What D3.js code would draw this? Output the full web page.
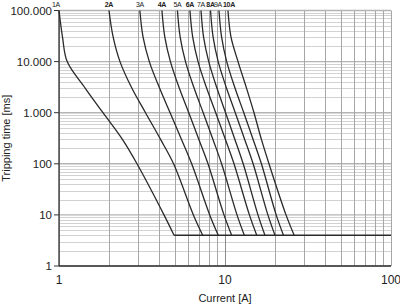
<!DOCTYPE html>
<html lang="en">
<head>
	<title>Tripping curves</title>
	<script src="https://d3js.org/d3.v7.min.js" charset="utf-8"></script>
	<style>
		body { margin: 0; background: #fff; }
		text { font-family: Arial, "Liberation Sans", sans-serif; fill: #222; }
	</style>
</head>
<body>
	<div id="chart"></div>
<script>
	// fuse ratings shown at the top
	var ratings = ["1A", "2A", "3A", "4A", "5A", "6A", "7A", "8A", "9A", "10A"];
	var boldLabels = ["2A", "4A", "6A", "8A", "10A"];

	// tripping time levels [ms] at which the currents below were read
	var timeLevels = [100000, 30000, 10000, 3000, 1000, 300, 100, 10, 4];

	// current [A] for each rating at every time level
	var current1A  = [1.00, 1.05, 1.12, 1.44, 1.84, 2.41, 2.95, 4.29, 4.93];
	var current2A  = [2.00, 2.12, 2.33, 2.75, 3.32, 4.09, 4.90, 6.45, 7.34];
	var current3A  = [3.07, 3.21, 3.50, 4.04, 4.67, 5.47, 6.30, 8.09, 9.11];
	var current4A  = [4.17, 4.34, 4.69, 5.31, 6.05, 6.96, 7.90, 9.86, 10.97];
	var current5A  = [5.17, 5.37, 5.78, 6.52, 7.39, 8.46, 9.54, 11.81, 13.07];
	var current6A  = [6.15, 6.39, 6.88, 7.76, 8.79, 10.06, 11.33, 14.03, 15.53];
	var current7A  = [7.17, 7.43, 7.98, 8.95, 10.08, 11.47, 12.87, 15.80, 17.4];
	var current8A  = [8.18, 8.48, 9.10, 10.22, 11.53, 13.14, 14.77, 18.13, 20.0];
	var current9A  = [9.20, 9.54, 10.24, 11.50, 12.98, 14.77, 16.57, 20.34, 22.5];
	var current10A = [10.42, 10.87, 11.98, 13.49, 14.95, 16.57, 18.41, 23.31, 26.1];
	var currents = [current1A, current2A, current3A, current4A, current5A,
		current6A, current7A, current8A, current9A, current10A];

	// minimum tripping time (flat part of all curves)
	var minTime = 4;
	var floorStart = 4.93;

	// axis ticks
	var xTickValues = [1, 10, 100];
	var xTickLabels = ["1", "10", "100"];
	var yTickValues = [1, 10, 100, 1000, 10000, 100000];
	var yTickLabels = ["1", "10", "100", "1.000", "10.000", "100.000"];

	var w = 400;
	var h = 305;
	var margin = { top: 10.5, right: 9, bottom: 39, left: 59 };

	var svg = d3.select("#chart")
		.append("svg")
		.attr("width", w)
		.attr("height", h);

	var x = d3.scaleLog()
		.domain([1, 100])
		.range([margin.left, w - margin.right]);

	var y = d3.scaleLog()
		.domain([1, 100000])
		.range([h - margin.bottom, margin.top]);

	// grid values: 1..9 of every decade
	var xGrid = [];
	for (var d = 1; d < 100; d *= 10) {
		for (var k = 1; k <= 10; k++) xGrid.push(d * k);
	}
	var yMinor = [];
	for (var e = 1; e < 100000; e *= 10) {
		for (var m = 2; m <= 9; m++) yMinor.push(e * m);
	}

	// minor horizontal grid
	svg.append("g").selectAll("line")
		.data(yMinor)
		.enter()
		.append("line")
		.attr("x1", x(1))
		.attr("x2", x(100))
		.attr("y1", function(d) { return Math.round(y(d)) + 0.5; })
		.attr("y2", function(d) { return Math.round(y(d)) + 0.5; })
		.attr("stroke", "#d2d2d2")
		.attr("stroke-width", 1);

	// major horizontal grid
	svg.append("g").selectAll("line")
		.data(yTickValues)
		.enter()
		.append("line")
		.attr("x1", x(1))
		.attr("x2", x(100))
		.attr("y1", function(d) { return y(d); })
		.attr("y2", function(d) { return y(d); })
		.attr("stroke", "#b4b4b4")
		.attr("stroke-width", 1.4);

	// vertical grid
	svg.append("g").selectAll("line")
		.data(xGrid)
		.enter()
		.append("line")
		.attr("x1", function(d) { return Math.round(x(d)) + 0.5; })
		.attr("x2", function(d) { return Math.round(x(d)) + 0.5; })
		.attr("y1", y(100000))
		.attr("y2", y(1))
		.attr("stroke", function(d) { return d === 10 ? "#8c8c8c" : "#a6a6a6"; })
		.attr("stroke-width", 1);

	// axes lines (left and bottom)
	svg.append("line")
		.attr("x1", x(1)).attr("x2", x(1))
		.attr("y1", y(100000)).attr("y2", y(1))
		.attr("stroke", "#333").attr("stroke-width", 1.3);
	svg.append("line")
		.attr("x1", x(1)).attr("x2", x(100))
		.attr("y1", y(1)).attr("y2", y(1))
		.attr("stroke", "#333").attr("stroke-width", 1.3);

	// y ticks and labels
	var yAxis = svg.append("g");
	yAxis.selectAll("line")
		.data(yTickValues)
		.enter()
		.append("line")
		.attr("x1", x(1) - 5)
		.attr("x2", x(1))
		.attr("y1", function(d) { return y(d); })
		.attr("y2", function(d) { return y(d); })
		.attr("stroke", "#333")
		.attr("stroke-width", 1);
	yAxis.selectAll("text")
		.data(yTickValues)
		.enter()
		.append("text")
		.attr("x", x(1) - 7)
		.attr("y", function(d) { return y(d); })
		.attr("dy", "0.36em")
		.attr("text-anchor", "end")
		.attr("font-size", "11.5px")
		.text(function(d, i) { return yTickLabels[i]; });

	// x labels
	svg.append("g").selectAll("text")
		.data(xTickValues)
		.enter()
		.append("text")
		.attr("x", function(d) { return x(d); })
		.attr("y", y(1) + 18)
		.attr("text-anchor", "middle")
		.attr("font-size", "12px")
		.text(function(d, i) { return xTickLabels[i]; });

	// axis titles
	svg.append("text")
		.attr("x", x(10))
		.attr("y", h - 3)
		.attr("text-anchor", "middle")
		.attr("font-size", "11px")
		.text("Current [A]");

	svg.append("text")
		.attr("text-anchor", "middle")
		.attr("font-size", "11px")
		.attr("transform", "translate(10," + ((margin.top + h - margin.bottom) / 2) + ") rotate(-90)")
		.text("Tripping time [ms]");

	// tripping curves
	var line = d3.line()
		.x(function(d) { return x(d.current); })
		.y(function(d) { return y(d.time); })
		.curve(d3.curveCatmullRom.alpha(0.5));

	var curveData = currents.map(function(c) {
		return c.map(function(v, i) { return { current: v, time: timeLevels[i] }; });
	});

	svg.append("g").selectAll("path")
		.data(curveData)
		.enter()
		.append("path")
		.attr("d", line)
		.attr("fill", "none")
		.attr("stroke", "#2a2a2a")
		.attr("stroke-width", 1.3);

	// flat minimum time line
	svg.append("line")
		.attr("x1", x(floorStart))
		.attr("x2", x(100))
		.attr("y1", y(minTime))
		.attr("y2", y(minTime))
		.attr("stroke", "#2a2a2a")
		.attr("stroke-width", 1.3);

	// rating labels on top
	svg.append("g").selectAll("text")
		.data(ratings)
		.enter()
		.append("text")
		.attr("x", function(d, i) { return x(currents[i][0]); })
		.attr("dx", function(d, i) { return i === 0 ? -3 : (i === 8 ? -1 : (i === 9 ? 1 : 0)); })
		.attr("y", 7)
		.attr("text-anchor", "middle")
		.attr("font-size", "7px")
		.attr("letter-spacing", "-0.3px")
		.attr("font-weight", function(d) { return boldLabels.indexOf(d) >= 0 ? "bold" : "normal"; })
		.attr("fill", function(d) { return boldLabels.indexOf(d) >= 0 ? "#222" : "#555"; })
		.text(function(d) { return d; });
</script>
</body>
</html>
